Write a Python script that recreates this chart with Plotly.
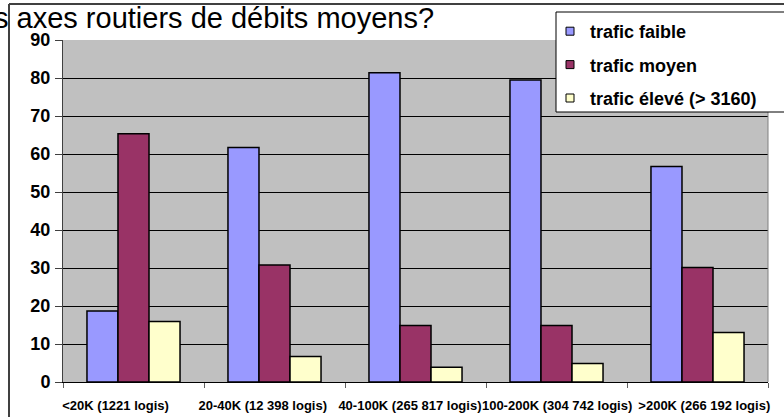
import plotly.graph_objects as go

# ---- data ----
categories = ["<20K (1221 logis)", "20-40K (12 398 logis)", "40-100K (265 817 logis)",
              "100-200K (304 742 logis)", ">200K (266 192 logis)"]
trafic_faible = [18.7, 61.7, 81.4, 79.5, 56.7]
trafic_moyen = [65.3, 30.8, 14.9, 14.9, 30.1]
trafic_eleve = [15.9, 6.7, 3.9, 4.9, 13.0]
series_names = ["trafic faible", "trafic moyen", "trafic élevé (> 3160)"]
y_ticks = list(range(0, 91, 10))
title_text = "s axes routiers de débits moyens?"

# ---- layout helpers ----
W, H = 784, 417
L, R, T, B = 63, 16, 40, 35
PW, PH = W - L - R, H - T - B
FONT = "Liberation Sans, Arial, sans-serif"


def px_x(p):
    return (p - L) / PW


def px_y(p):
    return (H - B - p) / PH


colors = ["#9999FF", "#993366", "#FFFFCC"]
series = [trafic_faible, trafic_moyen, trafic_eleve]

fig = go.Figure()
for name, vals, col in zip(series_names, series, colors):
    fig.add_trace(go.Bar(
        x=categories, y=vals, name=name, showlegend=False,
        marker=dict(color=col, line=dict(color="black", width=1.5)),
    ))
# legend entries (small square keys)
for i, (name, col) in enumerate(zip(series_names, colors)):
    fig.add_trace(go.Scatter(
        x=[None], y=[None], mode="markers", name=name, legendgroup=f"g{i}",
        marker=dict(symbol="square", size=8, color=col, line=dict(color="black", width=1)),
    ))

# category labels are laid out slightly wider than the bar slots in the original
label_pos = list(range(len(categories)))

fig.update_layout(
    width=W, height=H,
    margin=dict(l=L, r=R, t=T, b=B, autoexpand=False),
    paper_bgcolor="white",
    plot_bgcolor="#C0C0C0",
    bargap=0.34, bargroupgap=0,
    barmode="group",
    font=dict(family=FONT, color="black"),
    legend=dict(
        x=px_x(550), y=px_y(13), xanchor="left", yanchor="top",
        bgcolor="rgba(0,0,0,0)", borderwidth=0,
        font=dict(family=FONT, size=18, weight="bold", color="black"),
        tracegroupgap=7, itemwidth=30,
    ),
    xaxis=dict(
        type="category", tickson="boundaries", ticks="outside", ticklen=5,
        tickcolor="#606060", showline=True, linecolor="black", linewidth=1,
        showticklabels=False, showgrid=False,
    ),
    xaxis2=dict(
        overlaying="x", side="bottom", anchor="y", range=[-0.357, 4.433],
        tickvals=label_pos, ticktext=categories, ticks="", showgrid=False,
        zeroline=False, showline=False, tickangle=0,
        tickfont=dict(family=FONT, size=13, weight="bold", color="black"),
        ticklabelstandoff=14,
    ),
    yaxis=dict(
        range=[0, 90], tickvals=y_ticks, ticks="outside", ticklen=7,
        tickcolor="#404040", showline=True, linecolor="#404040", linewidth=1,
        showgrid=True, gridcolor="black", gridwidth=1, zeroline=False,
        tickfont=dict(family=FONT, size=18, weight="bold", color="black"),
        ticklabelstandoff=1,
    ),
    shapes=[
        # right border of plot area
        dict(type="line", xref="paper", yref="paper", x0=1, x1=1, y0=0, y1=1,
             line=dict(color="#808080", width=1)),
        # outer frame
        dict(type="line", xref="paper", yref="paper", x0=px_x(9), x1=px_x(9),
             y0=px_y(4), y1=px_y(440), line=dict(color="#404040", width=2)),
        dict(type="line", xref="paper", yref="paper", x0=px_x(9), x1=px_x(820),
             y0=px_y(4), y1=px_y(4), line=dict(color="#404040", width=2)),
        # legend box
        dict(type="rect", xref="paper", yref="paper", x0=px_x(556), x1=px_x(820),
             y0=px_y(112), y1=px_y(12), fillcolor="white",
             line=dict(color="black", width=1), layer="above"),
    ],
    annotations=[
        dict(text=title_text, xref="paper", yref="paper", x=px_x(-8), y=px_y(18),
             xanchor="left", yanchor="middle", showarrow=False,
             font=dict(family=FONT, size=29, color="black")),
    ],
)
# dummy trace to activate the label axis
fig.add_trace(go.Scatter(x=[None], y=[None], xaxis="x2", showlegend=False, hoverinfo="skip"))

fig.write_html("out.html", config={"displayModeBar": False},
               post_script="document.body.style.margin='0';document.body.style.overflow='hidden';")
